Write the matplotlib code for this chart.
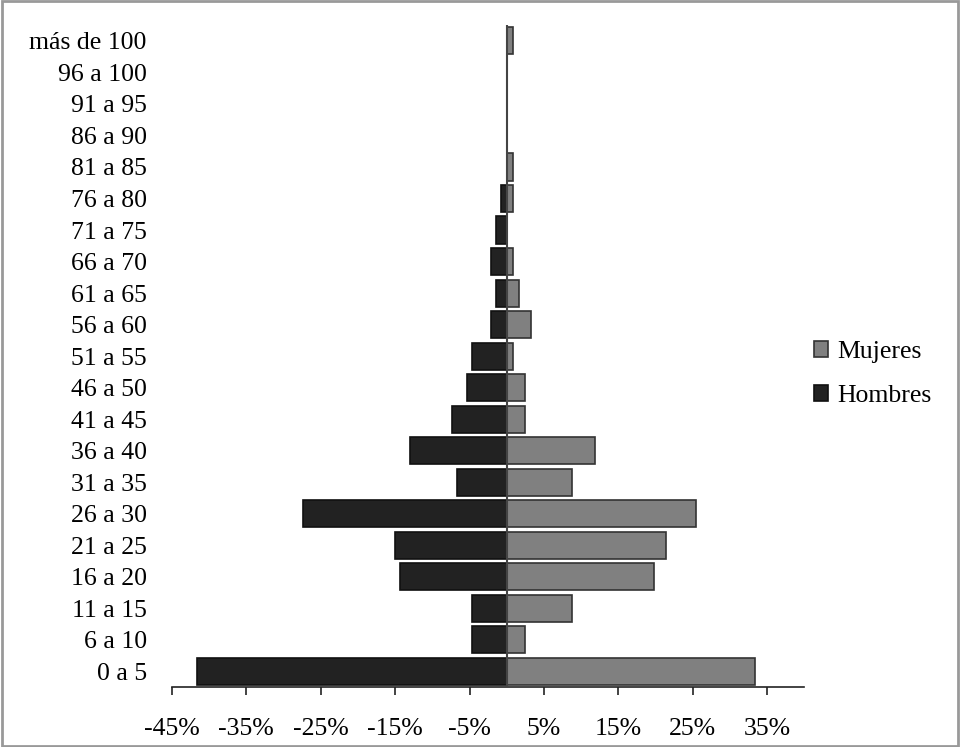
import matplotlib.pyplot as plt
from matplotlib.patches import Rectangle

plt.rcParams['font.family'] = ['Liberation Serif', 'DejaVu Serif']

edades = ['0 a 5', '6 a 10', '11 a 15', '16 a 20', '21 a 25', '26 a 30',
          '31 a 35', '36 a 40', '41 a 45', '46 a 50', '51 a 55', '56 a 60',
          '61 a 65', '66 a 70', '71 a 75', '76 a 80', '81 a 85', '86 a 90',
          '91 a 95', '96 a 100', 'más de 100']

# porcentajes (hombres negativos para la piramide)
hombres = [-41.6, -4.7, -4.7, -14.4, -15.0, -27.4,
           -6.7, -13.0, -7.3, -5.3, -4.7, -2.1,
           -1.4, -2.1, -1.4, -0.75, 0, 0,
           0, 0, 0]
mujeres = [33.4, 2.4, 8.7, 19.8, 21.4, 25.4,
           8.7, 11.9, 2.4, 2.4, 0.8, 3.2,
           1.6, 0.8, 0, 0.8, 0.8, 0,
           0, 0, 0.8]

xticks = [-45, -35, -25, -15, -5, 5, 15, 25, 35]

fs = 18.5

fig = plt.figure(figsize=(9.6, 7.47), dpi=100)
ax = fig.add_axes([0.179, 0.0803, 0.659, 0.886])

pos = range(len(edades))
ax.barh(pos, mujeres, height=0.86, color='#808080', edgecolor='#333333',
        linewidth=1.2, label='Mujeres', zorder=2)
ax.barh(pos, hombres, height=0.86, color='#222222', edgecolor='#111111',
        linewidth=1.2, label='Hombres', zorder=2)

ax.axvline(0, color='#444444', linewidth=1.5, zorder=3)

ax.set_xlim(-45, 40)
ax.set_ylim(-0.5, len(edades) - 0.5)

ax.set_xticks(xticks)
ax.set_xticklabels([f'{t}%' for t in xticks])
ax.set_yticks(list(pos))
ax.set_yticklabels(edades)

for s in ['top', 'right', 'left']:
    ax.spines[s].set_visible(False)
ax.spines['bottom'].set_color('#222222')
ax.spines['bottom'].set_linewidth(1.2)

ax.tick_params(axis='x', direction='out', length=5.5, width=1.2,
               color='#222222', labelsize=fs, pad=17)
ax.tick_params(axis='y', length=0, labelsize=fs, pad=18)

handles, labels = ax.get_legend_handles_labels()
fig.legend(handles, labels, loc='center left', bbox_to_anchor=(0.837, 0.499),
           frameon=False, fontsize=fs, handlelength=0.55, handleheight=0.55,
           handletextpad=0.35, labelspacing=0.85, borderaxespad=0)

fig.add_artist(Rectangle((0.002, 0.002), 0.996, 0.996, transform=fig.transFigure,
                         fill=False, edgecolor='#999999', linewidth=2))

fig.savefig('out.png', dpi=100)
